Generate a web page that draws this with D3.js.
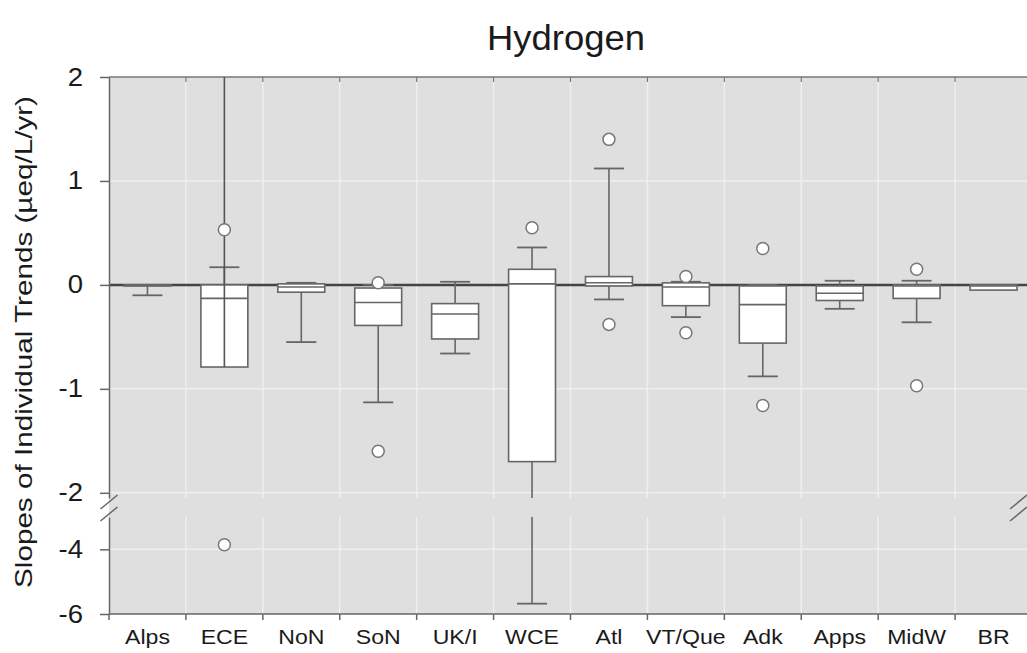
<!DOCTYPE html>
<html>
<head>
<meta charset="utf-8">
<script src="https://cdn.jsdelivr.net/npm/d3@7"></script>
<style>
  body { margin: 0; background: #fff; }
  text { font-family: "Liberation Sans", Arial, sans-serif; }
</style>
</head>
<body>
<script>
const w = 1027;
const h = 653;

// data
const regions = ["Alps", "ECE", "NoN", "SoN", "UK/I", "WCE", "Atl", "VT/Que", "Adk", "Apps", "MidW", "BR"];
const q1     = [-0.01, -0.79, -0.07, -0.39, -0.52, -1.70, -0.01, -0.20, -0.56, -0.15, -0.13, -0.05];
const median = [ 0.00, -0.13, -0.02, -0.17, -0.28,  0.01,  0.02, -0.02, -0.19, -0.08, -0.01, -0.01];
const q3     = [ 0.00,  0.00,  0.01, -0.03, -0.18,  0.15,  0.08,  0.02, -0.01, -0.01,  0.00,  0.00];
const whiskLo = [-0.10, -0.79, -0.55, -1.13, -0.66, -5.68, -0.14, -0.31, -0.88, -0.23, -0.36, -0.05];
const whiskHi = [ 0.00,  0.17,  0.02,  0.00,  0.03,  0.36,  1.12,  0.03,  0.00,  0.04,  0.04,  0.00];
const stemTop = [null, 2.0, null, null, null, null, null, null, null, null, null, null];
const outliers = [
  [], [0.53, -3.86], [], [0.02, -1.60], [], [0.55],
  [1.40, -0.38], [0.08, -0.46], [0.35, -1.16], [], [0.15, -0.97], []
];
const topTicks = [2, 1, 0, -1, -2];
const bottomTicks = [-4, -6];

const pLeft = 109, pRight = 1032, pTop = 77;
const upperBottom = 498, lowerTop = 517, pBottom = 614;

const svg = d3.select("body")
    .append("svg")
    .attr("width", w)
    .attr("height", h)

const x = d3.scaleBand().domain(regions).range([pLeft, pRight])
const yTop = d3.scaleLinear().domain([-2.05, 2]).range([upperBottom, pTop])
const yBot = d3.scaleLinear().domain([-6, -3]).range([pBottom, lowerTop])

// value -> pixel, null inside the break
const yv = v => v >= -2.05 ? yTop(v) : (v <= -3 ? yBot(v) : null)

// vertical segment that skips the broken part
function segment(g, cx, a, b, color) {
    const hi = Math.max(a, b), lo = Math.min(a, b)
    const parts = []
    if (hi > -2.05) parts.push([yTop(Math.min(hi, 2)), yTop(Math.max(lo, -2.05))])
    if (lo < -3) parts.push([yBot(Math.min(hi, -3)), yBot(lo)])
    parts.forEach(p => {
        g.append("line")
          .attr("x1", cx).attr("x2", cx)
          .attr("y1", p[0]).attr("y2", p[1])
          .attr("stroke", color).attr("stroke-width", 1.6)
    })
}

// plot background
svg.append("rect")
    .attr("x", pLeft).attr("y", pTop)
    .attr("width", pRight - pLeft).attr("height", pBottom - pTop)
    .attr("fill", "#dfdfdf")

// grid
const grid = svg.append("g")
const bounds = regions.slice(1).map(r => x(r))
bounds.forEach(bx => {
    grid.append("line").attr("x1", bx).attr("x2", bx).attr("y1", pTop).attr("y2", upperBottom)
      .attr("stroke", "#efefef").attr("stroke-width", 1.5)
    grid.append("line").attr("x1", bx).attr("x2", bx).attr("y1", lowerTop).attr("y2", pBottom)
      .attr("stroke", "#efefef").attr("stroke-width", 1.5)
})
topTicks.filter(t => t !== 0 && t !== 2).forEach(t => {
    grid.append("line").attr("x1", pLeft).attr("x2", pRight).attr("y1", yTop(t)).attr("y2", yTop(t))
      .attr("stroke", "#efefef").attr("stroke-width", 1.5)
})
bottomTicks.filter(t => t !== -6).forEach(t => {
    grid.append("line").attr("x1", pLeft).attr("x2", pRight).attr("y1", yBot(t)).attr("y2", yBot(t))
      .attr("stroke", "#efefef").attr("stroke-width", 1.5)
})

// top frame with small ticks
svg.append("line").attr("x1", pLeft).attr("x2", pRight).attr("y1", pTop).attr("y2", pTop)
    .attr("stroke", "#777").attr("stroke-width", 1.5)
bounds.forEach(bx => {
    svg.append("line").attr("x1", bx).attr("x2", bx).attr("y1", pTop).attr("y2", pTop + 5)
      .attr("stroke", "#777").attr("stroke-width", 1.2)
})

// zero line
svg.append("line")
    .attr("x1", pLeft).attr("x2", pRight)
    .attr("y1", yTop(0)).attr("y2", yTop(0))
    .attr("stroke", "#444").attr("stroke-width", 2.5)

// boxes
const boxW = x.bandwidth() * 0.61
const capW = x.bandwidth() * 0.39
const boxes = svg.selectAll(".box")
    .data(regions)
    .enter()
    .append("g")
      .attr("class", "box")

boxes.each(function(r, i) {
    const g = d3.select(this)
    const cx = x(r) + x.bandwidth() / 2
    // whiskers
    if (whiskHi[i] > q3[i]) {
        segment(g, cx, q3[i], whiskHi[i], "#666")
        g.append("line")
          .attr("x1", cx - capW / 2).attr("x2", cx + capW / 2)
          .attr("y1", yv(whiskHi[i])).attr("y2", yv(whiskHi[i]))
          .attr("stroke", "#666").attr("stroke-width", 1.8)
    }
    if (whiskLo[i] < q1[i]) {
        segment(g, cx, q1[i], whiskLo[i], "#666")
        g.append("line")
          .attr("x1", cx - capW / 2).attr("x2", cx + capW / 2)
          .attr("y1", yv(whiskLo[i])).attr("y2", yv(whiskLo[i]))
          .attr("stroke", "#666").attr("stroke-width", 1.8)
    }
    // box
    g.append("rect")
      .attr("x", cx - boxW / 2)
      .attr("y", yTop(q3[i]))
      .attr("width", boxW)
      .attr("height", Math.max(yTop(q1[i]) - yTop(q3[i]), 1))
      .attr("fill", "#fff")
      .attr("stroke", "#666")
      .attr("stroke-width", 1.6)
    g.append("line")
      .attr("x1", cx - boxW / 2).attr("x2", cx + boxW / 2)
      .attr("y1", yTop(median[i])).attr("y2", yTop(median[i]))
      .attr("stroke", "#666").attr("stroke-width", 1.6)
    // stem running off the top of the scale
    if (stemTop[i] !== null) {
        segment(g, cx, stemTop[i], q1[i], "#555")
    }
    // outliers
    outliers[i].forEach(v => {
        g.append("circle")
          .attr("cx", cx).attr("cy", yv(v)).attr("r", 6)
          .attr("fill", "#fff").attr("stroke", "#777").attr("stroke-width", 1.5)
    })
})

// left axes (broken)
const axisTop = svg.append("g")
    .attr("transform", `translate(${pLeft}, 0)`)
    .call(d3.axisLeft(yTop).tickValues(topTicks).tickSize(9).tickSizeOuter(0).tickPadding(17))
const axisBot = svg.append("g")
    .attr("transform", `translate(${pLeft}, 0)`)
    .call(d3.axisLeft(yBot).tickValues(bottomTicks).tickSize(9).tickSizeOuter(0).tickPadding(17))
;[axisTop, axisBot].forEach(a => {
    a.selectAll("path, line").attr("stroke", "#666").attr("stroke-width", 1.5)
    a.selectAll("text")
      .attr("font-size", "25px")
      .attr("fill", "#1a1a1a")
      .attr("transform", "translate(-26,0) scale(1.1,1) translate(26,0)")
      .text(d => d < 0 ? "-" + Math.abs(d) : d)
})

// bottom axis
svg.append("line").attr("x1", pLeft).attr("x2", pRight).attr("y1", pBottom).attr("y2", pBottom)
    .attr("stroke", "#666").attr("stroke-width", 1.5)
regions.map(r => x(r)).forEach(bx => {
    svg.append("line").attr("x1", bx).attr("x2", bx).attr("y1", pBottom).attr("y2", pBottom + 6)
      .attr("stroke", "#666").attr("stroke-width", 1.5)
})
const xAxis = svg.append("g")
    .attr("transform", `translate(0, ${pBottom})`)
    .call(d3.axisBottom(x).tickSize(0).tickPadding(15))
xAxis.select(".domain").remove()
xAxis.selectAll("text")
    .attr("font-size", "21px")
    .attr("fill", "#1a1a1a")
    .attr("transform", "scale(1.1,1)")

// break marks
;[pLeft + 0.5, pRight - 13].forEach(bx => {
    [upperBottom + 4, lowerTop - 3].forEach(by => {
        svg.append("line")
          .attr("x1", bx - 9).attr("x2", bx + 8)
          .attr("y1", by + 7).attr("y2", by - 7)
          .attr("stroke", "#666").attr("stroke-width", 1.5)
    })
})

// title
svg.append("text")
    .attr("x", 566)
    .attr("y", 50)
    .attr("text-anchor", "middle")
    .attr("font-size", "35px")
    .attr("fill", "#1a1a1a")
    .attr("textLength", 158)
    .attr("lengthAdjust", "spacingAndGlyphs")
    .text("Hydrogen")

// y label
svg.append("text")
    .attr("transform", "translate(32, 342) rotate(-90)")
    .attr("text-anchor", "middle")
    .attr("font-size", "24px")
    .attr("fill", "#1a1a1a")
    .attr("textLength", 492)
    .attr("lengthAdjust", "spacingAndGlyphs")
    .text("Slopes of Individual Trends (µeq/L/yr)")
</script>
</body>
</html>
